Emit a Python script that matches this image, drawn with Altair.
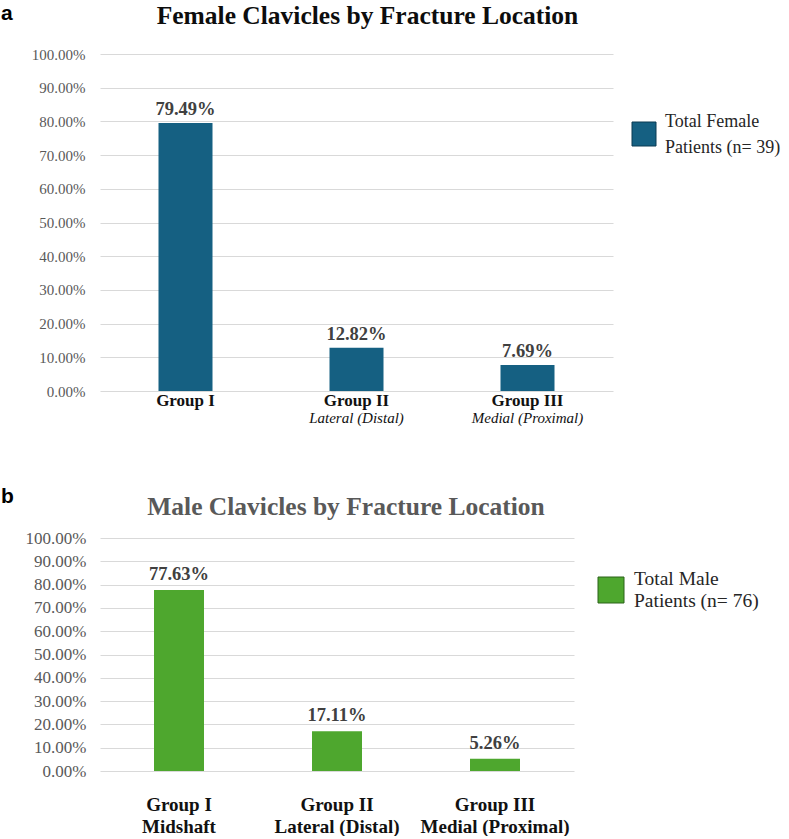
import altair as alt
import pandas as pd

# ---- data -------------------------------------------------------------
groups = ["Group I", "Group II", "Group III"]

female_sub = ["", "Lateral (Distal)", "Medial (Proximal)"]
female_pct = [79.49, 12.82, 7.69]

male_sub = ["Midshaft", "Lateral (Distal)", "Medial (Proximal)"]
male_pct = [77.63, 17.11, 5.26]

y_ticks = [0, 10, 20, 30, 40, 50, 60, 70, 80, 90, 100]

female_title = "Female Clavicles by Fracture Location"
male_title = "Male Clavicles by Fracture Location"
female_series = "Total Female\nPatients (n= 39)"
male_series = "Total Male\nPatients (n= 76)"

BLUE = "#156082"
GREEN = "#4EA72E"
SERIF = "Liberation Serif"
SANS = "Liberation Sans"


def panel(tag, title, sub, pct, series, color, stroke, dims):
    w, h = dims["w"], dims["h"]
    df = pd.DataFrame({
        "group": groups,
        "sub": sub,
        "pct": pct,
        "series": series,
        "axis_label": [g + ("|" + s if (s and dims["two_line_axis"]) else "") for g, s in zip(groups, sub)],
    })
    order = list(df["axis_label"])
    x_enc = alt.X(
        "axis_label:N",
        sort=order,
        scale=alt.Scale(paddingInner=0, paddingOuter=0),
        axis=alt.Axis(
            title=None, labelAngle=0, ticks=False, domain=False,
            labelFont=SERIF, labelFontWeight="bold",
            labelFontSize=dims["xfs"], labelColor="#111111",
            labelPadding=dims["xpad"], labelLineHeight=dims["xlh"],
            labelExpr="split(datum.label, '|')",
        ),
    )
    y_enc = alt.Y(
        "pct:Q",
        scale=alt.Scale(domain=[0, 100], nice=False),
        axis=alt.Axis(
            title=None, values=y_ticks, ticks=False, domain=False,
            grid=True, gridColor="#d9d9d9", gridWidth=1,
            labelFont=SERIF, labelFontSize=dims["yfs"], labelColor="#595959",
            labelPadding=dims["ypad"], labelOverlap=False,
            labelExpr="format(datum.value, '.2f') + '%'",
        ),
    )
    color_enc = alt.Color("series:N", scale=alt.Scale(domain=[series], range=[color]), legend=None)

    base = alt.Chart(df)
    bars = base.mark_bar(width=dims["bw"]).encode(x=x_enc, y=y_enc, color=color_enc)
    values = base.transform_calculate(
        lbl="format(datum.pct, '.2f') + '%'"
    ).mark_text(
        font=SERIF, fontWeight="bold", fontSize=18.5, color="#404040",
        baseline="alphabetic", dy=-dims["vdy"],
    ).encode(x=x_enc, y=y_enc, text="lbl:N")

    layers = [bars, values]

    if not dims["two_line_axis"]:
        sublabels = base.mark_text(
            font=SERIF, fontStyle="italic", fontSize=15, color="#111111", baseline="alphabetic",
        ).encode(x=x_enc, y=alt.value(h + 32), text="sub:N")
        layers.append(sublabels)

    one = alt.Chart(pd.DataFrame({"title": [title], "tag": [tag], "series": [series]}))
    title_mark = one.mark_text(
        font=SERIF, fontWeight="bold", fontSize=25.5, color=dims["tcolor"], baseline="alphabetic",
    ).encode(x=alt.value(w / 2 + dims["tdx"]), y=alt.value(dims["ty"]), text="title:N")
    tag_mark = one.mark_text(
        font=SANS, fontWeight="bold", fontSize=21, color="#000000", align="left", baseline="alphabetic",
    ).encode(x=alt.value(dims["tagx"]), y=alt.value(dims["tagy"]), text="tag:N")

    lg = dims["legend"]
    legend_box = one.mark_rect(stroke=stroke, strokeWidth=1).encode(
        x=alt.value(lg["x"]), x2=alt.value(lg["x"] + lg["s"]),
        y=alt.value(lg["y"]), y2=alt.value(lg["y"] + lg["s"]),
        color=color_enc,
    )
    legend_text = one.mark_text(
        font=SERIF, fontSize=lg["fs"], color="#262626", align="left",
        baseline="alphabetic", lineBreak="\n", lineHeight=lg["lh"],
    ).encode(x=alt.value(lg["tx"]), y=alt.value(lg["ty"]), text="series:N")

    layers += [title_mark, tag_mark, legend_box, legend_text]
    return alt.layer(*layers).properties(width=w, height=h)


female = panel(
    "a", female_title, female_sub, female_pct, female_series, BLUE, "#0b3a52",
    dict(w=513, h=337, xfs=17, xpad=1, xlh=20, yfs=15, ypad=15, bw=54, vdy=8,
         two_line_axis=False, tcolor="#0d0d0d", tdx=11, ty=-30, tagx=-99, tagy=-34,
         legend=dict(x=532, y=68, s=24, tx=565, ty=73, fs=18, lh=26)),
)

male = panel(
    "b", male_title, male_sub, male_pct, male_series, GREEN, "#2a6318",
    dict(w=474, h=233, xfs=19, xpad=24, xlh=22, yfs=17, ypad=14, bw=50, vdy=10,
         two_line_axis=True, tcolor="#595959", tdx=9, ty=-23, tagx=-99, tagy=-35,
         legend=dict(x=498, y=39, s=26, tx=534, ty=47, fs=19.5, lh=22)),
)

chart = alt.vconcat(female, male, spacing=60).resolve_scale(
    color="independent"
).properties(
    padding={"left": 1, "top": 3, "right": 0, "bottom": 0},
    background="#ffffff",
).configure_view(stroke=None)

chart.save("out.html", embed_options={"renderer": "svg", "actions": False})
